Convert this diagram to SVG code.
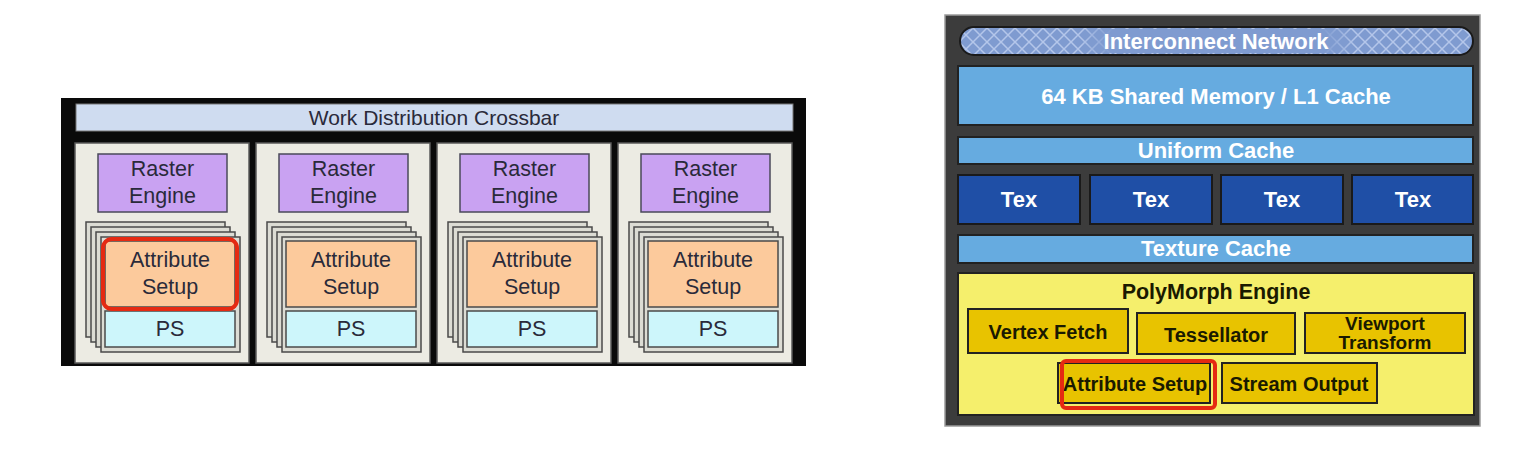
<svg xmlns="http://www.w3.org/2000/svg" width="1538" height="450" viewBox="0 0 1538 450">
<style>
.lbl{font-family:"Liberation Sans",Arial,sans-serif;font-size:21.5px;fill:#2a2a3a;text-anchor:middle;dominant-baseline:central}
.wb{font-family:"Liberation Sans",Arial,sans-serif;font-weight:bold;font-size:22px;fill:#ffffff;text-anchor:middle;dominant-baseline:central}
.kb{font-family:"Liberation Sans",Arial,sans-serif;font-weight:bold;font-size:20px;fill:#1a1a00;text-anchor:middle;dominant-baseline:central}
.panel{fill:#ecebe3;stroke:#5a5a5a;stroke-width:1.5}
.raster{fill:#c9a2f2;stroke:#4a4a5a;stroke-width:1.5}
.layer{fill:#dcdcd4;stroke:#4a4a4a;stroke-width:1.5}
.attr{fill:#fcca9c;stroke:#4a4a4a;stroke-width:1.5}
.ps{fill:#cdf6fb;stroke:#4a4a4a;stroke-width:1.5}
.lb{fill:#66abe0;stroke:#222;stroke-width:2}
.tex{fill:#1f4fa6;stroke:#1a1a1a;stroke-width:2}
.gold{fill:#e8c300;stroke:#222;stroke-width:2}
.hl{fill:none;stroke:#e52a12;stroke-width:4}
</style>
<defs>
<pattern id="hatch" width="14" height="14" patternUnits="userSpaceOnUse">
<rect width="14" height="14" fill="#7f9bd0"/>
<path d="M0 7 L7 0 L14 7 L7 14 Z" fill="none" stroke="#b4c6ea" stroke-width="1.5"/>
</pattern>
<linearGradient id="fade" x1="0" y1="0" x2="1" y2="0">
<stop offset="0" stop-color="#7f9bd0" stop-opacity="0"/>
<stop offset="0.12" stop-color="#7f9bd0" stop-opacity="1"/>
<stop offset="0.88" stop-color="#7f9bd0" stop-opacity="1"/>
<stop offset="1" stop-color="#7f9bd0" stop-opacity="0"/>
</linearGradient>
<g id="stack">
<rect class="layer" x="11" y="222" width="139" height="115"/>
<rect class="layer" x="16" y="227" width="139" height="115"/>
<rect class="layer" x="21" y="232" width="139" height="115"/>
<rect class="layer" x="26" y="237" width="139" height="115"/>
<rect class="attr" x="30" y="241" width="130" height="66"/>
<rect class="ps" x="30" y="311" width="130" height="36"/>
<text class="lbl" x="95" y="260">Attribute</text>
<text class="lbl" x="95" y="287">Setup</text>
<text class="lbl" x="95" y="329">PS</text>
<rect class="raster" x="23" y="154" width="129" height="58"/>
<text class="lbl" x="87.5" y="169">Raster</text>
<text class="lbl" x="87.5" y="196">Engine</text>
</g>
</defs>
<rect width="1538" height="450" fill="#ffffff"/>

<g id="gpc">
<rect x="61" y="98" width="745" height="268" fill="#0a0a0a"/>
</g>
<g id="crossbar">
<rect x="76" y="104" width="717" height="27" fill="#cfdcf0" stroke="#777" stroke-width="1"/>
<text class="lbl" x="434" y="117.5" style="font-size:21px">Work Distribution Crossbar</text>
</g>
<g id="panel1">
<rect class="panel" x="75" y="143" width="174" height="220"/>
<use href="#stack" x="75"/>
<rect class="hl" x="103" y="239" width="134" height="70" rx="9"/>
</g>
<g id="panel2">
<rect class="panel" x="256" y="143" width="174" height="220"/>
<use href="#stack" x="256"/>
</g>
<g id="panel3">
<rect class="panel" x="437" y="143" width="174" height="220"/>
<use href="#stack" x="437"/>
</g>
<g id="panel4">
<rect class="panel" x="618" y="143" width="174" height="220"/>
<use href="#stack" x="618"/>
</g>

<g id="sm">
<rect x="945" y="15" width="535" height="411" fill="#3c3c3c" stroke="#9a9a9a" stroke-width="1.5"/>
</g>
<g id="interconnect">
<rect x="960" y="27" width="513" height="28" rx="14" fill="url(#hatch)" stroke="#1a1a1a" stroke-width="2"/>
<rect x="1080" y="29" width="275" height="24" fill="url(#fade)"/>
<text class="wb" x="1216" y="41">Interconnect Network</text>
</g>
<g id="sharedmem">
<rect class="lb" x="958" y="66" width="515" height="59"/>
<text class="wb" x="1216" y="96">64 KB Shared Memory / L1 Cache</text>
</g>
<g id="uniform">
<rect class="lb" x="958" y="137" width="515" height="27"/>
<text class="wb" x="1216" y="150">Uniform Cache</text>
</g>
<g id="tex1"><rect class="tex" x="958" y="175" width="122" height="49"/><text class="wb" x="1019" y="199">Tex</text></g>
<g id="tex2"><rect class="tex" x="1090" y="175" width="122" height="49"/><text class="wb" x="1151" y="199">Tex</text></g>
<g id="tex3"><rect class="tex" x="1221" y="175" width="122" height="49"/><text class="wb" x="1282" y="199">Tex</text></g>
<g id="tex4"><rect class="tex" x="1352" y="175" width="121" height="49"/><text class="wb" x="1413" y="199">Tex</text></g>
<g id="texcache">
<rect class="lb" x="958" y="235" width="515" height="28"/>
<text class="wb" x="1216" y="248">Texture Cache</text>
</g>
<g id="polymorph">
<rect x="958" y="273" width="516" height="142" fill="#f5ef6c" stroke="#222" stroke-width="2"/>
<text class="kb" x="1216" y="292" style="font-size:21.5px">PolyMorph Engine</text>
</g>
<g id="vertexfetch"><rect class="gold" x="968" y="309" width="160" height="44"/><text class="kb" x="1048" y="332">Vertex Fetch</text></g>
<g id="tessellator"><rect class="gold" x="1137" y="313" width="158" height="41"/><text class="kb" x="1216" y="335">Tessellator</text></g>
<g id="viewport"><rect class="gold" x="1305" y="313" width="160" height="40"/><text class="kb" x="1385" y="323" style="font-size:19px">Viewport</text><text class="kb" x="1385" y="342" style="font-size:19px">Transform</text></g>
<g id="attrsetup"><rect class="gold" x="1058" y="363" width="152" height="40"/><text class="kb" x="1135" y="384">Attribute Setup</text><rect class="hl" x="1062" y="361" width="153" height="47" rx="4"/></g>
<g id="streamout"><rect class="gold" x="1222" y="363" width="155" height="40"/><text class="kb" x="1299" y="384">Stream Output</text></g>
<g id="connectors"></g>
</svg>
